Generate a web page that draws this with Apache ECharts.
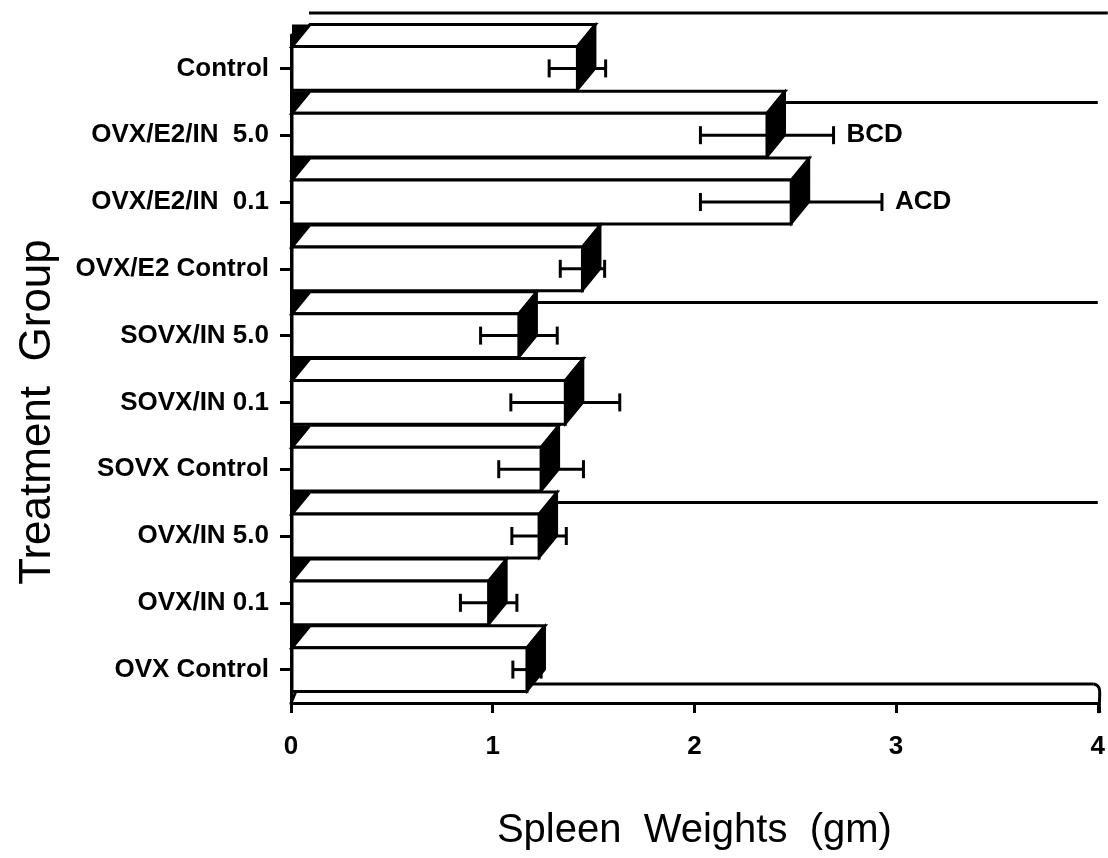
<!DOCTYPE html>
<html>
<head>
<meta charset="utf-8">
<script src="https://cdn.jsdelivr.net/npm/echarts@6/dist/echarts.min.js"></script>
<style>
  html, body { margin: 0; padding: 0; background: #fff; }
  #chart { width: 1108px; height: 858px; }
</style>
</head>
<body>
<div id="chart"></div>
<script>
// Treatment groups, top to bottom
const categories = [
  'Control',
  'OVX/E2/IN  5.0',
  'OVX/E2/IN  0.1',
  'OVX/E2 Control',
  'SOVX/IN 5.0',
  'SOVX/IN 0.1',
  'SOVX Control',
  'OVX/IN 5.0',
  'OVX/IN 0.1',
  'OVX Control'
];
// Mean spleen weight (gm) and its error bar half-width
const means  = [1.42, 2.36, 2.48, 1.445, 1.13, 1.36, 1.24, 1.23, 0.98, 1.17];
const errors = [0.14, 0.33, 0.45, 0.11, 0.19, 0.27, 0.21, 0.135, 0.14, 0.07];
// Significance letters printed beside the bars
const letters = ['', 'BCD', 'ACD', '', '', '', '', '', '', ''];
// Value axis range
const xMin = 0, xMax = 4, xStep = 1;

const FONT = "'Liberation Sans', Arial, Helvetica, sans-serif";
const DX = 18, DY = -22;     // depth offset of the 3-D boxes
const LW = 3;                // outline width

const chart = echarts.init(document.getElementById('chart'));

const barData = categories.map((c, i) => [i, means[i], errors[i], letters[i]]);

function renderBar(params, api) {
  const ci = api.value(0);
  const v = api.value(1);
  const e = api.value(2);
  const letter = letters[params.dataIndex];
  const base = api.coord([xMin, ci]);
  const end = api.coord([v, ci]);
  const lo = api.coord([v - e, ci]);
  const hi = api.coord([v + e, ci]);
  const band = api.size([0, 1])[1];
  const h = band * 0.655;
  const x0 = base[0] + 1, xr = end[0];
  const yc = end[1];
  const yt = yc - h / 2, yb = yc + h / 2;
  const cap = 9;
  const stroke = { stroke: '#000', lineWidth: LW, lineJoin: 'miter' };
  const children = [
    // dark wedge behind the top-left corner
    { type: 'polygon', shape: { points: [[x0, yt], [x0, yt + DY], [x0 + DX, yt + DY]] },
      style: { fill: '#000' } },
    // top face
    { type: 'polygon', shape: { points: [[x0, yt], [x0 + DX, yt + DY], [xr + DX, yt + DY], [xr, yt]] },
      style: Object.assign({ fill: '#fff' }, stroke) },
    // front face
    { type: 'rect', shape: { x: x0, y: yt, width: xr - x0, height: h },
      style: Object.assign({ fill: '#fff' }, stroke) },
    // error bar
    { type: 'line', shape: { x1: lo[0], y1: yc, x2: hi[0], y2: yc },
      style: { stroke: '#000', lineWidth: 3 } },
    { type: 'line', shape: { x1: lo[0], y1: yc - cap, x2: lo[0], y2: yc + cap },
      style: { stroke: '#000', lineWidth: 3 } },
    { type: 'line', shape: { x1: hi[0], y1: yc - cap, x2: hi[0], y2: yc + cap },
      style: { stroke: '#000', lineWidth: 3 } },
    // shaded right side
    { type: 'polygon', shape: { points: [[xr, yt], [xr + DX, yt + DY], [xr + DX, yb + DY], [xr, yb]] },
      style: { fill: '#000', stroke: '#000', lineWidth: 2 } }
  ];
  if (letter) {
    children.push({
      type: 'text',
      style: { x: hi[0] + 13, y: yc, text: letter, fill: '#000',
               font: 'bold 26px ' + FONT, align: 'left', verticalAlign: 'middle' }
    });
  }
  return { type: 'group', children };
}

// back edge of the plot box and the floor under the bars
function renderFrame(params, api) {
  const cs = params.coordSys;
  const left = cs.x, top = cs.y, right = cs.x + cs.width, bottom = cs.y + cs.height;
  const fy = bottom - 19;
  return {
    type: 'group',
    children: [
      { type: 'line', shape: { x1: left + DX, y1: top + DY, x2: right + 10, y2: top + DY },
        style: { stroke: '#000', lineWidth: 3 } },
      { type: 'line', shape: { x1: left + 8, y1: fy, x2: right - 4, y2: fy },
        style: { stroke: '#000', lineWidth: 3 } },
      { type: 'line', shape: { x1: left, y1: bottom, x2: left + 8, y2: fy },
        style: { stroke: '#000', lineWidth: 3 } },
      { type: 'bezierCurve', shape: { x1: right - 4, y1: fy, cpx1: right + 6, cpy1: fy + 2,
          cpx2: right, cpy2: bottom - 6, x2: right + 2, y2: bottom + 10 },
        style: { stroke: '#000', lineWidth: 3, fill: 'none' } }
    ]
  };
}

chart.setOption({
  backgroundColor: '#fff',
  animation: false,
  grid: { left: 291, right: 9, top: 35, bottom: 155 },
  xAxis: {
    type: 'value',
    min: xMin, max: xMax, interval: xStep,
    axisLine: { show: true, lineStyle: { color: '#000', width: 3 } },
    axisTick: { show: true, length: 10, lineStyle: { color: '#000', width: 3 } },
    axisLabel: { color: '#000', fontFamily: FONT, fontWeight: 'bold', fontSize: 26, margin: 31 },
    splitLine: { show: false },
    name: 'Spleen  Weights  (gm)',
    nameLocation: 'middle',
    nameGap: 108,
    nameTextStyle: { color: '#000', fontFamily: FONT, fontSize: 40 }
  },
  yAxis: {
    type: 'category',
    inverse: true,
    data: categories,
    axisLine: { show: true, lineStyle: { color: '#000', width: 3 } },
    axisTick: { show: true, alignWithLabel: true, length: 11, lineStyle: { color: '#000', width: 3 } },
    axisLabel: { color: '#000', fontFamily: FONT, fontWeight: 'bold', fontSize: 26, margin: 22 },
    splitLine: { show: true, interval: (i) => i % 3 === 1,
                 lineStyle: { color: '#000', width: 3 } }
  },
  graphic: [{
    type: 'text',
    x: 38, y: 412,
    rotation: Math.PI / 2,
    style: { text: 'Treatment  Group', fill: '#000', font: '44px ' + FONT,
             align: 'center', verticalAlign: 'middle' }
  }],
  series: [
    { type: 'custom', name: 'frame', renderItem: renderFrame, data: [[0, 0]],
      encode: { x: 0, y: 1 }, silent: true, z: 1 },
    { type: 'custom', name: 'Spleen weight', renderItem: renderBar, data: barData,
      encode: { x: 1, y: 0 }, z: 2 }
  ]
});
</script>
</body>
</html>
